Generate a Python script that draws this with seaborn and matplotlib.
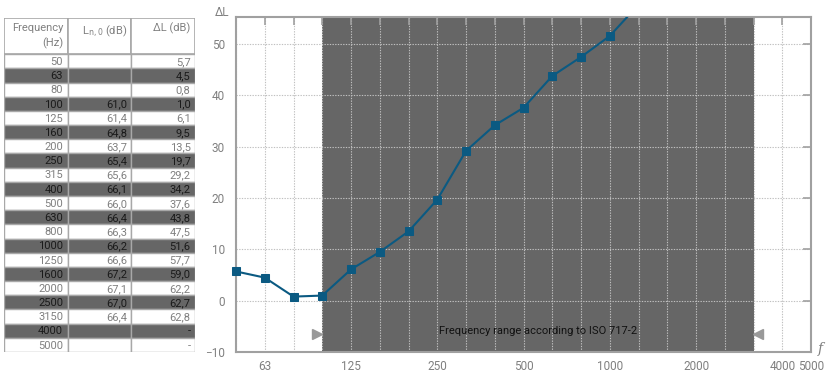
import matplotlib
matplotlib.use("Agg")
import matplotlib.pyplot as plt
import seaborn as sns
import numpy as np
import pandas as pd
from matplotlib.patches import Rectangle
from matplotlib.transforms import Bbox, TransformedBbox

# ---- data ----
freqs = ["50", "63", "80", "100", "125", "160", "200", "250", "315", "400", "500",
         "630", "800", "1000", "1250", "1600", "2000", "2500", "3150", "4000", "5000"]
ln0 = ["", "", "", "61,0", "61,4", "64,8", "63,7", "65,4", "65,6", "66,1", "66,0",
       "66,4", "66,3", "66,2", "66,6", "67,2", "67,1", "67,0", "66,4", "", ""]
dl_text = ["5,7", "4,5", "0,8", "1,0", "6,1", "9,5", "13,5", "19,7", "29,2", "34,2", "37,6",
           "43,8", "47,5", "51,6", "57,7", "59,0", "62,2", "62,7", "62,8", "-", "-"]
dl_values = [5.7, 4.5, 0.8, 1.0, 6.1, 9.5, 13.5, 19.7, 29.2, 34.2, 37.6,
             43.8, 47.5, 51.6, 57.7, 59.0, 62.2, 62.7, 62.8]
tick_labels = {"63": "63", "125": "125", "250": "250", "500": "500", "1000": "1000",
               "2000": "2000", "4000": "4000", "5000": "5000"}
yticks = [-10, 0, 10, 20, 30, 40, 50]
range_start, range_end = "100", "3150"
range_text = "Frequency range according to ISO 717-2"

sns.set_theme(style="white")
plt.rcParams["font.family"] = ["Roboto", "DejaVu Sans"]

W, H = 839, 376
fig = plt.figure(figsize=(W / 100, H / 100), dpi=100)

DARK = "#666666"
GRAY_TXT = "#808080"

# ---- table ----
tl, tr, tt, tb = 4, 195, 18, 352
tax = fig.add_axes([tl / W, 1 - tb / H, (tr - tl) / W, (tb - tt) / H])
nrows = len(freqs)
header_h = 2.55
total = nrows + header_h
tax.set_xlim(0, 3)
tax.set_ylim(total, 0)
tax.axis("off")
col_edges = [0, 1.0, 2.0, 3.0]
# header
for c in range(3):
    tax.add_patch(Rectangle((col_edges[c], 0), col_edges[c + 1] - col_edges[c], header_h,
                            facecolor="white", edgecolor="#a8a8a8", lw=1.2))
tax.text(0.93, 0.35, "Frequency", ha="right", va="top", fontsize=8, color=GRAY_TXT)
tax.text(0.93, 1.35, "(Hz)", ha="right", va="top", fontsize=8, color=GRAY_TXT)
tax.text(1.93, 0.35, r"L$_{\mathrm{n,0}}$ (dB)", ha="right", va="top", fontsize=8, color=GRAY_TXT)
tax.text(2.93, 0.35, "ΔL (dB)", ha="right", va="top", fontsize=8, color=GRAY_TXT)
for i, (f, l, d) in enumerate(zip(freqs, ln0, dl_text)):
    y0 = header_h + i
    dark = (i % 2 == 1)
    fc = DARK if dark else "white"
    tc = "#1a1a1a" if dark else GRAY_TXT
    for c in range(3):
        tax.add_patch(Rectangle((col_edges[c], y0), col_edges[c + 1] - col_edges[c], 1,
                                facecolor=fc, edgecolor="#a8a8a8", lw=1.0))
    for c, s in enumerate([f, l, d]):
        tax.text(col_edges[c + 1] - 0.07, y0 + 0.55, s, ha="right", va="center",
                 fontsize=8, color=tc)

# ---- plot ----
pl, pr, pt, pb = 236, 811, 17, 352
ax = fig.add_axes([pl / W, 1 - pb / H, (pr - pl) / W, (pb - pt) / H])
xs = list(range(len(dl_values)))
df = pd.DataFrame({"x": xs, "y": dl_values})
ax.axvspan(freqs.index(range_start), freqs.index(range_end), color=DARK, zorder=0.2, lw=0)
sns.lineplot(data=df, x="x", y="y", ax=ax, color="#0b5a82", marker="s", markersize=5.5,
             markeredgecolor="#0b5a82", linewidth=1.5, zorder=3)
# let the markers at the left edge show fully, but clip at the top
clip = TransformedBbox(Bbox([[-0.03, -0.05], [1.03, 1.0]]), ax.transAxes)
for ln in ax.lines:
    ln.set_clip_box(clip)
    ln.set_clip_path(None)
    ln.set_clip_box(clip)
ax.set_xlim(0, len(freqs) - 1)
ax.set_ylim(-10, 55.3)
ax.set_xticks(range(len(freqs)))
ax.set_xticklabels([tick_labels.get(f, "") for f in freqs])
ax.set_yticks(yticks)
ax.set_xlabel("")
ax.set_ylabel("")
ax.set_axisbelow(True)
ax.grid(True, which="major", linestyle=(0, (1.2, 1.2)), color="#c0c0c0", linewidth=0.8)
ax.tick_params(axis="both", direction="in", length=6, width=1.2, color="#a0a0a0",
               labelcolor=GRAY_TXT, labelsize=8.5, top=True, right=True, pad=6)
ax.tick_params(axis="y", pad=8)
for s in ax.spines.values():
    s.set_color("#a0a0a0")
    s.set_linewidth(1.5)
    s.set_visible(True)

xs0 = freqs.index(range_start)
xe0 = freqs.index(range_end)
ax.plot([xs0 - 0.17], [-6.5], marker=">", color="#999999", markersize=7, ls="none", zorder=4)
ax.plot([xe0 + 0.17], [-6.5], marker="<", color="#999999", markersize=7, ls="none", zorder=4)
ax.text((xs0 + xe0) / 2, -6.0, range_text, ha="center", va="center", fontsize=8,
        color="#111111", zorder=4)

fig.text(222 / W, 1 - 12 / H, "ΔL", ha="center", va="center", fontsize=8.5, color=GRAY_TXT)
fig.text(820 / W, 1 - 349 / H, "f", ha="center", va="center", fontsize=10, color=GRAY_TXT,
         family="DejaVu Serif", style="italic")

fig.savefig("out.png", dpi=100)
